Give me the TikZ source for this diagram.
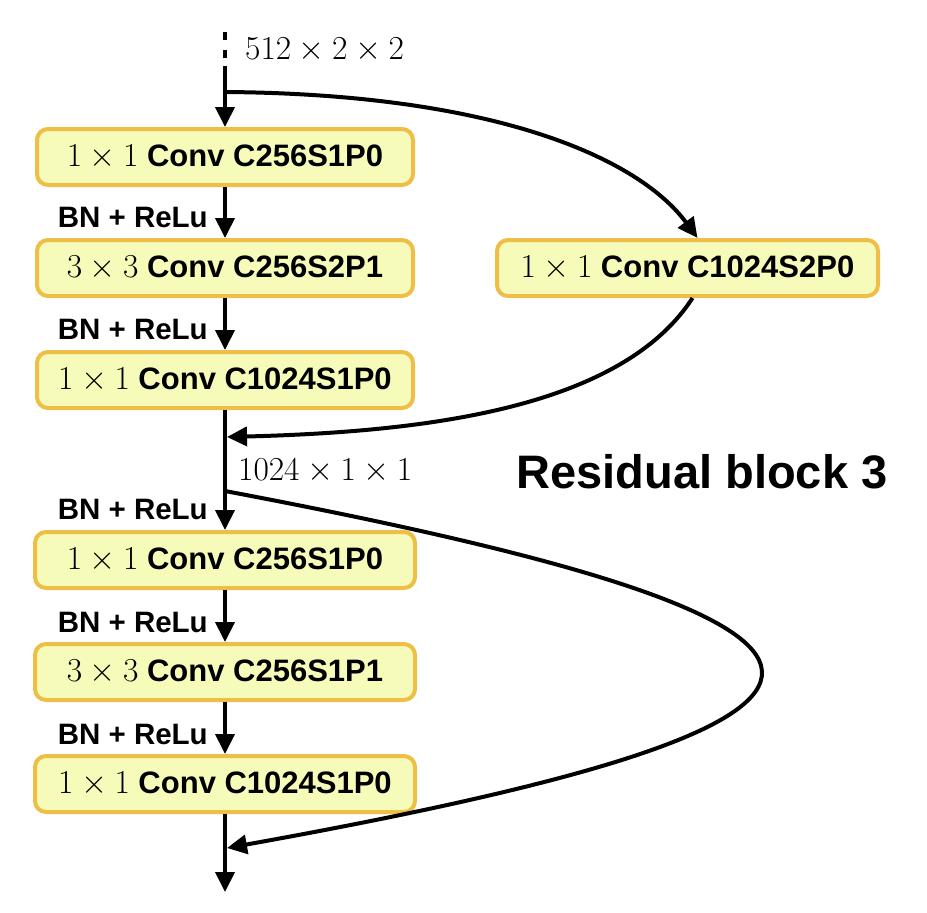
\documentclass[tikz,border=0pt]{standalone}
\usepackage{fix-cm}
\usepackage{fontspec}
\setsansfont{Liberation Sans}
\usetikzlibrary{arrows.meta}
\definecolor{boxfill}{RGB}{247,251,185}
\definecolor{boxdraw}{RGB}{238,190,70}
\newcommand{\mmx}[1]{{\fontsize{33.5}{40}\selectfont$#1$}}
\begin{document}
\begin{tikzpicture}[x=1pt,y=-1pt,
 blk/.style={draw=boxdraw,fill=boxfill,line width=4pt,rounded corners=11pt,minimum height=56pt,inner sep=0pt,font=\fontsize{31}{37}\selectfont\sffamily\bfseries},
 conn/.style={line width=4pt,-{Triangle[length=20pt,width=19pt]}},
 bn/.style={anchor=east,font=\fontsize{29.5}{34}\selectfont\sffamily\bfseries,inner sep=0pt},
 dimlbl/.style={anchor=west,inner sep=0pt}]
\useasboundingbox (0,0) rectangle (927,913);

\node[blk,minimum width=376pt] (b1) at (225,157) {\mmx{1\times1} Conv C256S1P0};
\node[blk,minimum width=376pt] (b2) at (225,268) {\mmx{3\times3} Conv C256S2P1};
\node[blk,minimum width=376pt] (b3) at (225,380) {\mmx{1\times1} Conv C1024S1P0};
\node[blk,minimum width=381pt] (rt) at (687.5,268) {\mmx{1\times1} Conv C1024S2P0};
\node[blk,minimum width=380pt] (b4) at (225,560) {\mmx{1\times1} Conv C256S1P0};
\node[blk,minimum width=380pt] (b5) at (225,672) {\mmx{3\times3} Conv C256S1P1};
\node[blk,minimum width=380pt] (b6) at (225,784) {\mmx{1\times1} Conv C1024S1P0};

\coordinate (in) at (225,32);
\coordinate (dend) at (225,66);
\coordinate (split1) at (225,92);
\coordinate (merge1) at (227,437);
\coordinate (split2) at (225,491);
\coordinate (merge2) at (227,848);
\coordinate (out) at (225,892);

\node[dimlbl] (d1) at (245,50) {\mmx{512\times2\times2}};
\node[dimlbl] (d2) at (238,471) {\mmx{1024\times1\times1}};

\node[bn] (l1) at (208,217) {BN + ReLu};
\node[bn] (l2) at (208,329) {BN + ReLu};
\node[bn] (l3) at (208,509) {BN + ReLu};
\node[bn] (l4) at (208,622) {BN + ReLu};
\node[bn] (l5) at (208,734) {BN + ReLu};

\node[font=\fontsize{47}{55}\selectfont\sffamily\bfseries,inner sep=0pt] (title) at (702,472) {Residual block 3};

\draw[line width=4pt,dash pattern=on 8pt off 10pt] (in) -- (dend);
\draw[conn] (dend) -- (b1);
\draw[conn] (b1) -- (b2);
\draw[conn] (b2) -- (b3);
\draw[conn] (b3) -- (b4);
\draw[conn] (b4) -- (b5);
\draw[conn] (b5) -- (b6);
\draw[conn] (b6) -- (out);

\draw[conn] (split1) .. controls (500,94) and (640,160) .. ([xshift=10pt]rt.north);
\draw[conn] ([xshift=5pt]rt.south) .. controls (620,410) and (420,432) .. (merge1);
\draw[conn] (split2) .. controls (935,625) and (940,720) .. (merge2);
\end{tikzpicture}
\end{document}
